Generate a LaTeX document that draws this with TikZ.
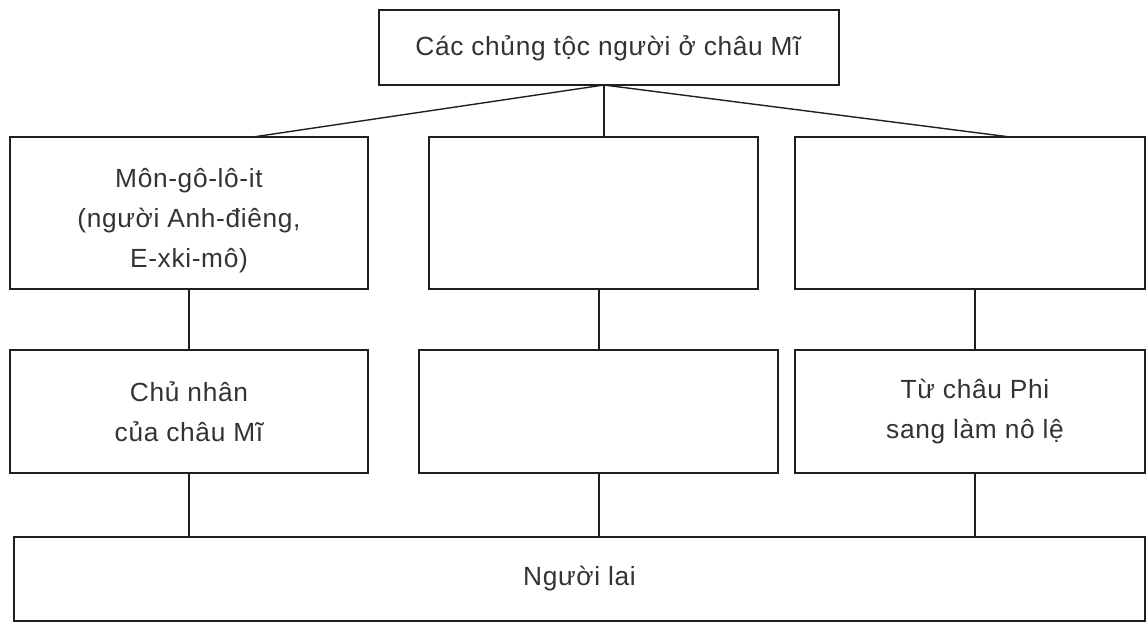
\documentclass[tikz,border=0pt]{standalone}
\usepackage{fontspec}
\setmainfont{Liberation Sans}[LetterSpace=2.5]
\begin{document}
\begin{tikzpicture}[x=1pt,y=-1pt,
  box/.style={draw=black!88,line width=1.4pt,rectangle,inner sep=0pt,outer sep=0pt,
    anchor=north west,align=center,text=black!80,font=\fontsize{26.3}{40}\selectfont},
  lbl/.style={inner sep=0pt,align=center,text=black!80,font=\fontsize{26.3}{40}\selectfont},
  link/.style={draw=black!88,line width=1.4pt}]
\useasboundingbox (0,0) rectangle (1147,621);
% boxes
\node[box,minimum width=460,minimum height=75] (top) at (379,10) {};
\node[lbl] (toptext) at (608,48) {Các chủng tộc người ở châu Mĩ};
\node[box,minimum width=358,minimum height=152] (r1a) at (10,137) {};
\node[lbl] (r1atext) at (189,221) {Môn-gô-lô-it\\(người Anh-điêng,\\E-xki-mô)};
\node[box,minimum width=329,minimum height=152] (r1b) at (429,137) {};
\node[box,minimum width=350,minimum height=152] (r1c) at (795,137) {};
\node[box,minimum width=358,minimum height=123] (r2a) at (10,350) {Chủ nhân\\của châu Mĩ};
\node[box,minimum width=359,minimum height=123] (r2b) at (419,350) {};
\node[box,minimum width=350,minimum height=123] (r2c) at (795,350) {};
\node[lbl] (r2ctext) at (975,412) {Từ châu Phi\\sang làm nô lệ};
\node[box,minimum width=1131,minimum height=84] (bot) at (14,537) {Người lai};
% helper x positions
\coordinate (xh) at (604,0);
\coordinate (xl) at (253,0);
\coordinate (xr) at (1010,0);
\coordinate (v1) at (189,0);
\coordinate (v2) at (599,0);
\coordinate (v3) at (975,0);
% connectors
\draw[link] (top.south -| xh) -- (r1a.north -| xl);
\draw[link] (top.south -| xh) -- (r1b.north -| xh);
\draw[link] (top.south -| xh) -- (r1c.north -| xr);
\draw[link] (r1a.south -| v1) -- (r2a.north -| v1);
\draw[link] (r1b.south -| v2) -- (r2b.north -| v2);
\draw[link] (r1c.south -| v3) -- (r2c.north -| v3);
\draw[link] (r2a.south -| v1) -- (bot.north -| v1);
\draw[link] (r2b.south -| v2) -- (bot.north -| v2);
\draw[link] (r2c.south -| v3) -- (bot.north -| v3);
\end{tikzpicture}
\end{document}
